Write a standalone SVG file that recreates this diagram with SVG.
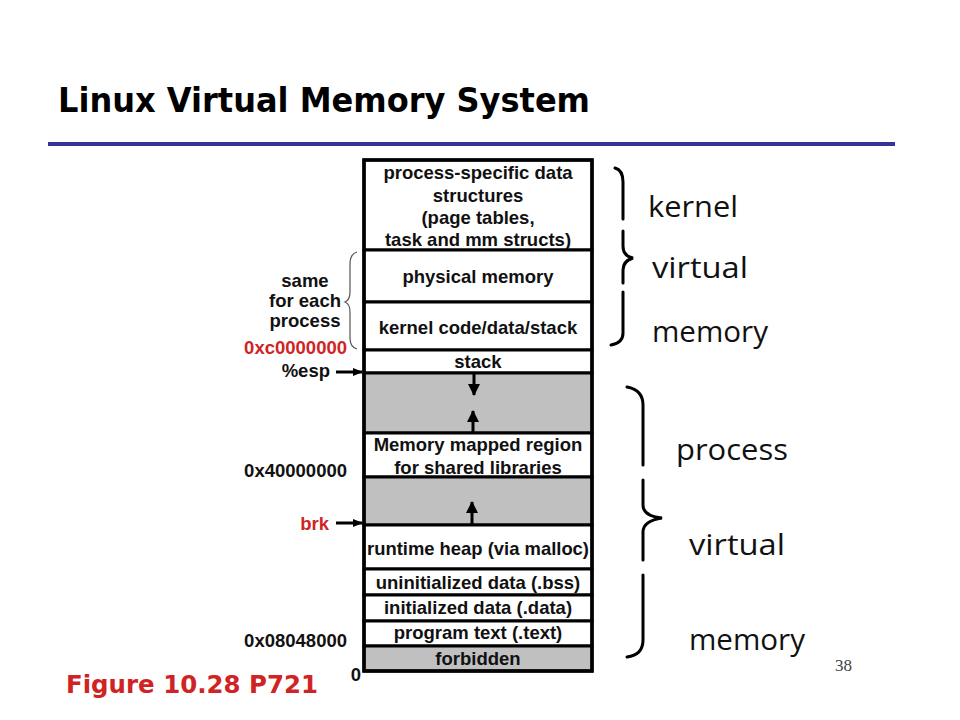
<svg xmlns="http://www.w3.org/2000/svg" width="960" height="720" viewBox="0 0 960 720">
<style>
.t{font-family:"Liberation Sans",Arial,sans-serif;font-weight:bold;font-size:18.5px;fill:#111;text-anchor:middle}
.l{font-family:"Liberation Sans",Arial,sans-serif;font-weight:bold;font-size:18.5px;fill:#111}
.red{fill:#d02424}
.big{font-family:"Open Sans","DejaVu Sans",sans-serif;font-size:30px;fill:#111}
.seg{stroke:#000;stroke-width:3}
.w{fill:#fff}
.g{fill:#c0c0c0}
.br{fill:none;stroke:#000;stroke-width:3;stroke-linecap:round}
.br2{fill:none;stroke:#555;stroke-width:1.2}
.ar{stroke:#000;stroke-width:3;fill:none}
</style>
<defs>
<marker id="ah" markerUnits="userSpaceOnUse" markerWidth="14" markerHeight="14" refX="11" refY="6" orient="auto">
<path d="M0,0 L12,6 L0,12 Z" fill="#000"/>
</marker>
<marker id="ahs" markerUnits="userSpaceOnUse" markerWidth="12" markerHeight="10" refX="9" refY="4" orient="auto">
<path d="M0,0 L10,4 L0,8 Z" fill="#000"/>
</marker>
</defs>
<rect width="960" height="720" fill="#fff"/>
<text x="58" y="112" font-family="'Comic Sans MS','DejaVu Sans',sans-serif" font-weight="bold" font-size="34" fill="#000" textLength="532" lengthAdjust="spacingAndGlyphs">Linux Virtual Memory System</text>
<line x1="48" y1="144" x2="895" y2="144" stroke="#333399" stroke-width="4"/>

<g id="seg-kernel-data">
<rect class="seg w" x="364" y="160" width="228" height="90"/>
<text class="t" x="478" y="179">process-specific data</text>
<text class="t" x="478" y="202">structures</text>
<text class="t" x="478" y="224">(page tables,</text>
<text class="t" x="478" y="246">task and mm structs)</text>
</g>
<g id="seg-physical">
<rect class="seg w" x="364" y="250" width="228" height="52"/>
<text class="t" x="478" y="283">physical memory</text>
</g>
<g id="seg-kernel-code">
<rect class="seg w" x="364" y="302" width="228" height="48"/>
<text class="t" x="478" y="334">kernel code/data/stack</text>
</g>
<g id="seg-stack">
<rect class="seg w" x="364" y="350" width="228" height="23"/>
<text class="t" x="478" y="368">stack</text>
</g>
<g id="seg-gap1"><rect class="seg g" x="364" y="373" width="228" height="60"/></g>
<g id="seg-mmap">
<rect class="seg w" x="364" y="433" width="228" height="44"/>
<text class="t" x="478" y="451">Memory mapped region</text>
<text class="t" x="478" y="474">for shared libraries</text>
</g>
<g id="seg-gap2"><rect class="seg g" x="364" y="477" width="228" height="48"/></g>
<g id="seg-heap">
<rect class="seg w" x="364" y="525" width="228" height="44"/>
<text class="t" x="478" y="555" textLength="222" lengthAdjust="spacingAndGlyphs">runtime heap (via malloc)</text>
</g>
<g id="seg-bss">
<rect class="seg w" x="364" y="569" width="228" height="26"/>
<text class="t" x="478" y="589">uninitialized data (.bss)</text>
</g>
<g id="seg-data">
<rect class="seg w" x="364" y="595" width="228" height="26"/>
<text class="t" x="478" y="614">initialized data (.data)</text>
</g>
<g id="seg-text">
<rect class="seg w" x="364" y="621" width="228" height="25"/>
<text class="t" x="478" y="639">program text (.text)</text>
</g>
<g id="seg-forbidden">
<rect class="seg g" x="364" y="646" width="228" height="25"/>
<text class="t" x="478" y="665">forbidden</text>
</g>
<rect x="364" y="160" width="228" height="511" fill="none" stroke="#000" stroke-width="3.5"/>

<g id="connectors">
<line class="ar" x1="474" y1="374" x2="474" y2="395" marker-end="url(#ah)"/>
<line class="ar" x1="473" y1="432" x2="473" y2="411" marker-end="url(#ah)"/>
<line class="ar" x1="472" y1="524" x2="472" y2="502" marker-end="url(#ah)"/>
<line class="ar" x1="336" y1="372" x2="362" y2="372" stroke-width="2.5" marker-end="url(#ahs)"/>
<line class="ar" x1="336" y1="523" x2="362" y2="523" stroke-width="2.5" marker-end="url(#ahs)"/>
</g>

<g id="left-labels">
<text class="t" x="305" y="287">same</text>
<text class="t" x="305" y="307">for each</text>
<text class="t" x="305" y="327">process</text>
<path class="br2" d="M357,252 Q350,254 350,264 L350,292 Q350,300 345,302 Q350,304 350,312 L350,338 Q350,347 357,349"/>
<text class="l red" x="347" y="354" text-anchor="end">0xc0000000</text>
<text class="l" x="330" y="377" text-anchor="end">%esp</text>
<text class="l" x="347" y="477" text-anchor="end">0x40000000</text>
<text class="l red" x="329" y="530" text-anchor="end">brk</text>
<text class="l" x="347" y="647" text-anchor="end">0x08048000</text>
<text class="l" x="356" y="681" text-anchor="middle">0</text>
</g>

<g id="kernel-brace">
<path class="br" d="M615,168 Q623,170 623,182 L623,219"/>
<path class="br" d="M623,231 L623,246 Q623,256 633,258 Q623,261 623,270 L623,283"/>
<path class="br" d="M623,292 L623,333 Q623,343 611,345"/>
<text class="big" x="648" y="217" textLength="90" lengthAdjust="spacingAndGlyphs">kernel</text>
<text class="big" x="652" y="278" textLength="96" lengthAdjust="spacingAndGlyphs">virtual</text>
<text class="big" x="652" y="342" textLength="116" lengthAdjust="spacingAndGlyphs">memory</text>
</g>
<g id="process-brace">
<path class="br" d="M627,387 Q643,390 643,405 L643,465"/>
<path class="br" d="M643,480 L643,505 Q643,516 662,518 Q643,521 643,532 L643,560"/>
<path class="br" d="M643,575 L643,640 Q643,655 627,657"/>
<text class="big" x="676" y="460" textLength="112" lengthAdjust="spacingAndGlyphs">process</text>
<text class="big" x="689" y="555" textLength="96" lengthAdjust="spacingAndGlyphs">virtual</text>
<text class="big" x="689" y="650" textLength="116" lengthAdjust="spacingAndGlyphs">memory</text>
</g>

<text x="66" y="693" font-family="'Comic Sans MS','DejaVu Sans',sans-serif" font-weight="bold" font-size="24" fill="#d02424" textLength="252" lengthAdjust="spacingAndGlyphs">Figure 10.28  P721</text>
<text x="835" y="671" font-family="'Liberation Serif',serif" font-size="17" fill="#444">38</text>
</svg>
